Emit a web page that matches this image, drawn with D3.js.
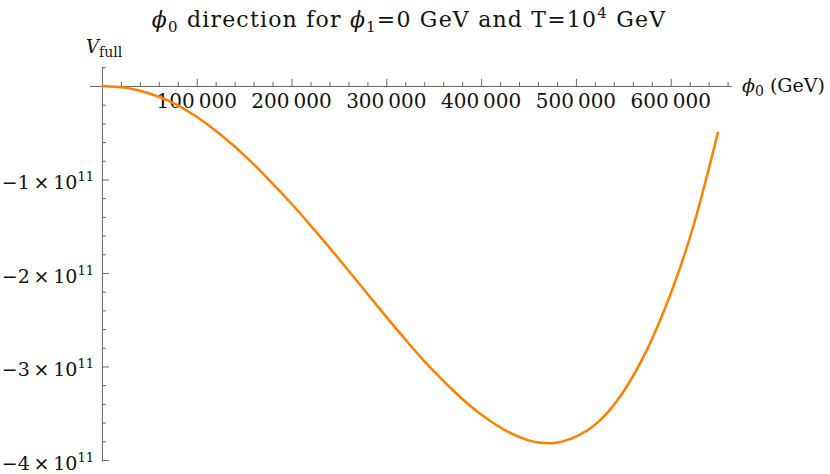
<!DOCTYPE html>
<meta charset="utf-8">
<style>
body { margin: 0; background: #fff; }
text { font-family: "DejaVu Serif", serif; fill: #111; }
.axis path, .axis line { stroke: #666; }
</style>
<svg width="830" height="474"></svg>
<script src="https://d3js.org/d3.v7.min.js"></script>
<script>

// phi0 in GeV
var phi0 = [0, 25000, 50000, 75000, 100000, 125000, 150000, 175000, 200000,
  225000, 250000, 275000, 300000, 325000, 350000, 375000, 400000, 425000,
  450000, 475000, 500000, 525000, 550000, 575000, 600000, 625000, 650000];

// V_full in units of 1e11
var vfull = [0, -0.02, -0.08, -0.18, -0.33, -0.52, -0.74, -0.99, -1.26,
  -1.55, -1.85, -2.16, -2.47, -2.77, -3.05, -3.30, -3.515, -3.68,
  -3.79, -3.82, -3.75, -3.58, -3.27, -2.82, -2.22, -1.46, -0.49];

var xTicks = [100000, 200000, 300000, 400000, 500000, 600000];
var yTicks = [-1, -2, -3, -4]; // mantissa of x 10^11

var svg = d3.select("svg");

var x = d3.scaleLinear().domain([-13000, 664000]).range([89.6, 731.4]);
var y = d3.scaleLinear().domain([-4.01, 0.205]).range([460.9, 66.8]);

var x0 = x(0), y0 = y(0);

// minor ticks
var xMinor = d3.range(20000, 664000, 20000).filter(function(d) { return d % 100000; });
var yMinor = d3.range(-40, 3, 2).map(function(d) { return d / 10; })
  .filter(function(d) { return d % 1 !== 0; });

// x axis, ticks pointing up
svg.append("g").attr("class", "axis")
    .attr("transform", "translate(0," + y0 + ")")
    .call(d3.axisTop(x).tickValues(xTicks).tickSize(7).tickSizeOuter(0).tickFormat(""));
svg.append("g").attr("class", "axis")
    .attr("transform", "translate(0," + y0 + ")")
    .call(d3.axisTop(x).tickValues(xMinor).tickSize(4).tickSizeOuter(0).tickFormat(""))
    .select(".domain").remove();

// y axis, ticks pointing right
svg.append("g").attr("class", "axis")
    .attr("transform", "translate(" + x0 + ",0)")
    .call(d3.axisRight(y).tickValues(yTicks).tickSize(7).tickSizeOuter(0).tickFormat(""));
svg.append("g").attr("class", "axis")
    .attr("transform", "translate(" + x0 + ",0)")
    .call(d3.axisRight(y).tickValues(yMinor).tickSize(4).tickSizeOuter(0).tickFormat(""))
    .select(".domain").remove();

svg.selectAll(".axis text").remove();

// x tick labels
svg.selectAll(".xlab")
  .data(xTicks)
  .enter().append("text")
    .attr("class", "xlab")
    .attr("x", function(d) { return x(d); })
    .attr("y", y0 + 22)
    .attr("text-anchor", "middle")
    .style("font-size", "20px")
    .text(function(d) { return d3.format(",")(d).replace(",", "\u2009"); });

// y tick labels
var yl = svg.selectAll(".ylab")
  .data(yTicks)
  .enter().append("text")
    .attr("class", "ylab")
    .attr("x", 94)
    .attr("y", function(d) { return y(d) + 10; })
    .attr("text-anchor", "end")
    .style("font-size", "19px");
yl.append("tspan").text(function(d) { return "\u2212" + Math.abs(d) + "\u2009\u00d7\u200910"; });
yl.append("tspan").attr("dy", -8).style("font-size", "13px").text("11");

// curve
var line = d3.line()
    .x(function(d, i) { return x(phi0[i]); })
    .y(function(d) { return y(d); })
    .curve(d3.curveNatural);

svg.append("path")
    .datum(vfull)
    .attr("fill", "none")
    .attr("stroke", "#ff8000")
    .attr("stroke-width", 2.5)
    .attr("d", line);

// axis labels
var vl = svg.append("text").attr("x", 86).attr("y", 53).style("font-size", "18px");
vl.append("tspan").style("font-style", "italic").text("V");
vl.append("tspan").attr("dy", 4).style("font-size", "14px").text("full");

var xl = svg.append("text").attr("x", 742).attr("y", y0 + 6).style("font-size", "19px");
xl.append("tspan").style("font-style", "italic").text("\u03d5");
xl.append("tspan").attr("dy", 4).style("font-size", "14px").text("0");
xl.append("tspan").attr("dy", -4).text(" (GeV)");

// title
var t = svg.append("text").attr("x", 409).attr("y", 27)
    .attr("text-anchor", "middle").style("font-size", "22px")
    .style("letter-spacing", "1.2px");
t.append("tspan").style("font-style", "italic").text("\u03d5");
t.append("tspan").attr("dy", 5).style("font-size", "15px").text("0");
t.append("tspan").attr("dy", -5).text(" direction for ");
t.append("tspan").style("font-style", "italic").text("\u03d5");
t.append("tspan").attr("dy", 5).style("font-size", "15px").text("1");
t.append("tspan").attr("dy", -5).text("=0 GeV and T=10");
t.append("tspan").attr("dy", -9).style("font-size", "15px").text("4");
t.append("tspan").attr("dy", 9).text(" GeV");

</script>
